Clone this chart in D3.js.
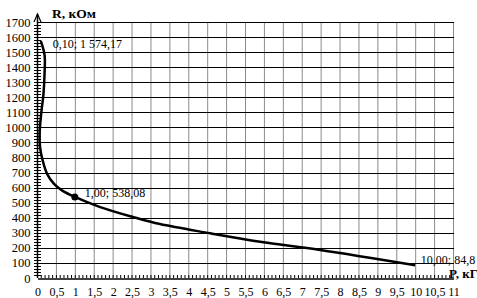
<!DOCTYPE html>
<html>
<head>
<meta charset="utf-8">
<script src="https://cdn.jsdelivr.net/npm/d3@7"></script>
<style>
  body { margin: 0; background: #fff; }
</style>
</head>
<body>
<svg id="chart" width="477" height="298"></svg>
<script>
// curve: load P (kG) and resistance R (kOhm)
let loadP = [0.10, 0.20, 0.20, 0.17, 0.11, 0.07, 0.08, 0.15, 0.27, 0.45, 0.67, 1.00, 1.67, 2.54, 3.25, 4.58, 5.90, 7.49, 10.00]
let resistR = [1574.17, 1480, 1360, 1220, 1090, 960, 870, 780, 690, 625, 580, 538.08, 471, 405, 358, 297, 241, 186, 84.8]
// labelled points
let labelP = [0.10, 1.00, 10.00]
let labelR = [1574.17, 538.08, 84.8]
let labelText = ['0,10; 1 574,17', '1,00; 538,08', '10,00; 84,8']
let xTicks = d3.range(0, 11.01, 0.5)
let yTicks = d3.range(0, 1701, 100)

let fmt = v => String(v).replace('.', ',')
const serif = 'Liberation Serif'

let x = d3.scaleLinear().domain([0, 11]).range([37, 453])
let y = d3.scaleLinear().domain([0, 1700]).range([278, 22])

const svg = d3.select('#chart')

// grid: vertical lines grey, horizontal black
svg.append('g')
  .selectAll('line')
  .data(xTicks.filter(d => d > 0))
  .join('line')
    .attr('x1', d => x(d) + 0.5).attr('x2', d => x(d) + 0.5)
    .attr('y1', y(1700)).attr('y2', y(0))
    .attr('stroke', '#8c8c8c')

svg.append('g')
  .selectAll('line')
  .data(yTicks.filter(d => d > 0))
  .join('line')
    .attr('x1', x(0)).attr('x2', x(11) + 1)
    .attr('y1', d => Math.round(y(d)) + 0.5).attr('y2', d => Math.round(y(d)) + 0.5)
    .attr('stroke', '#000')

// x axis with minor ticks every 0.1
let xAxis = g => g
  .attr('transform', `translate(0.5,${y(0) + 0.5})`)
  .call(d3.axisBottom(x).tickValues(xTicks).tickSize(0).tickPadding(9)
    .tickFormat(fmt))
  .call(g => g.select('.domain').attr('stroke', '#000').attr('stroke-width', 1.5))
  .call(g => g.selectAll('text').attr('font-size', 12).attr('fill', '#000'))

svg.append('g').call(xAxis)

svg.append('g')
  .selectAll('line')
  .data(d3.range(1, 110))
  .join('line')
    .attr('x1', d => x(d / 10) + 0.5).attr('x2', d => x(d / 10) + 0.5)
    .attr('y1', y(0)).attr('y2', y(0) - 3)
    .attr('stroke', '#000')

// y axis
let yAxis = g => g
  .attr('transform', `translate(${x(0) + 0.5},0)`)
  .call(d3.axisLeft(y).tickValues(yTicks).tickSize(0).tickPadding(7)
    .tickFormat(d => String(d)))
  .call(g => g.select('.domain').remove())
  .call(g => g.selectAll('text').attr('font-size', 12.5).attr('fill', '#000'))

svg.append('g').call(yAxis)

svg.append('g')
  .selectAll('line')
  .data(d3.range(20, 1700, 20))
  .join('line')
    .attr('x1', x(0) - 3).attr('x2', x(0) + 4)
    .attr('y1', d => Math.round(y(d)) + 0.5).attr('y2', d => Math.round(y(d)) + 0.5)
    .attr('stroke', '#000')

svg.append('line')
  .attr('x1', x(0) + 0.5).attr('x2', x(0) + 0.5)
  .attr('y1', y(0)).attr('y2', 14)
  .attr('stroke', '#000').attr('stroke-width', 1.5)

svg.append('path')
  .attr('d', `M${x(0) - 3},22 L${x(0) + 0.5},14 L${x(0) + 4},22`)
  .attr('fill', 'none').attr('stroke', '#000').attr('stroke-width', 1.2)

// axis titles
svg.append('text')
  .attr('x', 52).attr('y', 18)
  .attr('font-size', 13.5).attr('font-weight', 'bold')
  .text('R, кОм')

svg.append('text')
  .attr('x', 449).attr('y', 278)
  .attr('font-size', 13).attr('font-weight', 'bold')
  .text('P, кГ')

// curve
let points = loadP.map((p, i) => [p, resistR[i]])
let line = d3.line()
  .x(d => x(d[0]))
  .y(d => y(d[1]))
  .curve(d3.curveCatmullRom.alpha(0.5))

svg.append('path')
  .datum(points)
  .attr('d', line)
  .attr('fill', 'none')
  .attr('stroke', '#000')
  .attr('stroke-width', 2.5)

svg.append('circle')
  .attr('cx', x(labelP[1])).attr('cy', y(labelR[1]))
  .attr('r', 3.5).attr('fill', '#000')

// data labels
let labelDx = [12, 10, 60]
let labelDy = [7, 0, -1.5]
let labelAnchor = ['start', 'start', 'end']
svg.append('g')
  .selectAll('text')
  .data(labelText)
  .join('text')
    .attr('x', (d, i) => x(labelP[i]) + labelDx[i])
    .attr('y', (d, i) => y(labelR[i]) + labelDy[i])
    .attr('text-anchor', (d, i) => labelAnchor[i])
    .attr('font-size', 12)
    .attr('fill', '#000')
    .text(d => d)

// one family for every text, set last so the axis defaults do not win
svg.selectAll('g').attr('font-family', serif)
svg.selectAll('text').attr('font-family', serif).style('font-family', serif)
</script>
</body>
</html>
